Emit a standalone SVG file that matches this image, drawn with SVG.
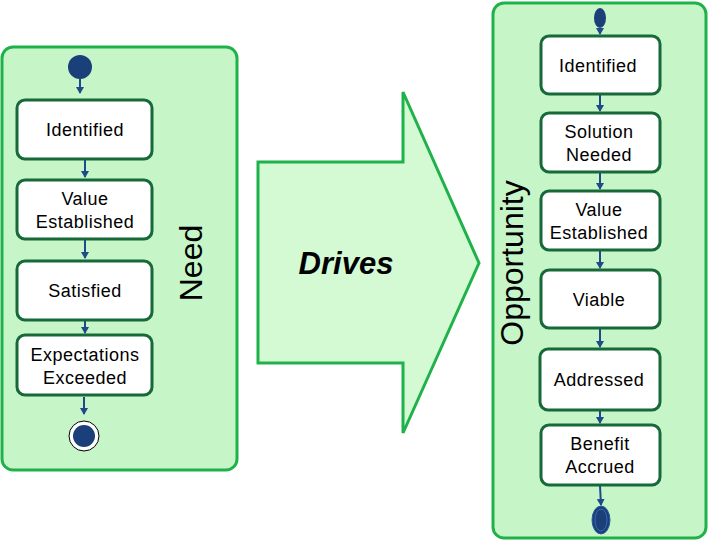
<svg xmlns="http://www.w3.org/2000/svg" width="708" height="541" viewBox="0 0 708 541">
<defs>
<style>
.cont{fill:#c6f5c8;stroke:#1fb24a;stroke-width:3}
.box{fill:#ffffff;stroke:#17693a;stroke-width:3}
.t{font-family:"Liberation Sans",Arial,sans-serif;font-size:18px;letter-spacing:0.5px;fill:#000;text-anchor:middle}
.big{font-family:"Liberation Sans",Arial,sans-serif;font-size:32px;fill:#000;text-anchor:middle}
.c{stroke:#1f4a8a;stroke-width:2;fill:none;marker-end:url(#ah)}
.dot{fill:#1b3f78}
</style>
<marker id="ah" markerWidth="8" markerHeight="8" refX="6" refY="4" orient="auto" markerUnits="userSpaceOnUse">
<path d="M0,0 L7,4 L0,8 Z" fill="#1f4a8a"/>
</marker>
</defs>
<rect width="708" height="541" fill="#fff"/>
<g id="need">
<rect class="cont" x="2" y="47" width="235" height="423" rx="11"/>
<text class="big" transform="translate(202,263) rotate(-90)">Need</text>
</g>
<g id="need-start"><circle class="dot" cx="80" cy="67" r="12"/></g>
<g id="need-identified"><rect class="box" x="17" y="100" width="135" height="59" rx="8"/><text class="t" x="85" y="136">Identified</text></g>
<g id="need-value"><rect class="box" x="17" y="180" width="135" height="59" rx="8"/><text class="t" x="85" y="205">Value</text><text class="t" x="85" y="228">Established</text></g>
<g id="need-satisfied"><rect class="box" x="17" y="261" width="135" height="59" rx="8"/><text class="t" x="85" y="297">Satisfied</text></g>
<g id="need-exceeded"><rect class="box" x="17" y="335" width="135" height="60" rx="8"/><text class="t" x="85" y="361">Expectations</text><text class="t" x="85" y="384">Exceeded</text></g>
<g id="need-end"><circle cx="84" cy="436" r="15" fill="#fff" stroke="#000" stroke-width="1"/><circle class="dot" cx="84" cy="436" r="11"/></g>
<g id="drives">
<polygon points="258,162 403,162 403,92 479,263 403,433 403,363 258,363" fill="#d4fad4" stroke="#1fb24a" stroke-width="3"/>
<text x="346" y="274" font-family="'Liberation Sans',Arial,sans-serif" font-size="31" font-weight="bold" font-style="italic" text-anchor="middle">Drives</text>
</g>
<g id="opportunity">
<rect class="cont" x="493" y="3" width="213" height="535" rx="11"/>
<text class="big" transform="translate(523,263) rotate(-90)">Opportunity</text>
</g>
<g id="opp-start"><ellipse class="dot" cx="600" cy="18" rx="6" ry="10"/></g>
<g id="opp-identified"><rect class="box" x="541" y="36" width="119" height="58" rx="8"/><text class="t" x="598" y="72">Identified</text></g>
<g id="opp-solution"><rect class="box" x="541" y="113" width="119" height="59" rx="8"/><text class="t" x="599" y="138">Solution</text><text class="t" x="599" y="161">Needed</text></g>
<g id="opp-value"><rect class="box" x="541" y="191" width="119" height="59" rx="8"/><text class="t" x="599" y="216">Value</text><text class="t" x="599" y="239">Established</text></g>
<g id="opp-viable"><rect class="box" x="541" y="270" width="119" height="58" rx="8"/><text class="t" x="599" y="306">Viable</text></g>
<g id="opp-addressed"><rect class="box" x="540" y="349" width="120" height="61" rx="8"/><text class="t" x="599" y="386">Addressed</text></g>
<g id="opp-benefit"><rect class="box" x="541" y="425" width="119" height="60" rx="8"/><text class="t" x="600" y="450">Benefit</text><text class="t" x="600" y="473">Accrued</text></g>
<g id="opp-end"><ellipse cx="601" cy="520" rx="9" ry="14" fill="#1b3f78" stroke="#2b5aa0" stroke-width="1"/><ellipse cx="601" cy="520" rx="6" ry="11" fill="none" stroke="#3a6ab0" stroke-width="1"/></g>
<g id="connectors">
<path class="c" d="M80,79 L80,93"/>
<path class="c" d="M85,160 L85,177"/>
<path class="c" d="M85,240 L85,258"/>
<path class="c" d="M85,321 L85,333"/>
<path class="c" d="M84,397 L84,414"/>
<path class="c" d="M600,28 L600,34"/>
<path class="c" d="M600,95 L600,111"/>
<path class="c" d="M600,173 L600,189"/>
<path class="c" d="M600,251 L600,268"/>
<path class="c" d="M600,329 L600,347"/>
<path class="c" d="M600,411 L600,423"/>
<path class="c" d="M600,486 L601,505"/>
</g>
</svg>
